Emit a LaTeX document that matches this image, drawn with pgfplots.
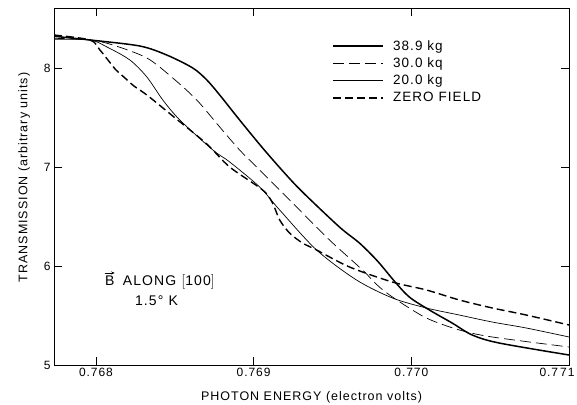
\documentclass[border=0pt]{standalone}
\usepackage{pgfplots}
\pgfplotsset{compat=1.18}
\usetikzlibrary{arrows.meta}
\usepackage{fontspec}
\setmainfont{Liberation Sans}[LetterSpace=8]

\begin{document}
\begin{tikzpicture}
\begin{axis}[
    scale only axis,
    width=515pt, height=357pt,
    xmin=0.767734, xmax=0.771,
    ymin=5, ymax=8.606,
    xtick={0.768,0.769,0.770,0.771},
    xticklabels={0.768,0.769,0.770,\hspace*{-24pt}0.7\,71},
    ytick={5,6,7,8},
    yticklabels={5,6,7,8},
    tick align=inside,
    major tick length=8pt,
    tick style={black, line width=0.5pt},
    axis line style={line width=0.8pt},
    ticklabel style={font=\fontsize{12}{14}\selectfont},
    /pgf/number format/assume math mode=true,
    xlabel={PHOTON ENERGY (electron volts)},
    ylabel={TRANSMISSION (arbitrary units)},
    label style={font=\fontsize{12.5}{14}\selectfont},
    xlabel style={yshift=-8pt},
    ylabel style={yshift=7pt, xshift=9pt},
    legend style={at={(rel axis cs:0.54,0.915)}, anchor=north west,
        draw=none, fill=none, font=\fontsize{13.5}{15}\selectfont,
        row sep=2pt, inner sep=0pt},
    legend cell align=left,
    legend image code/.code={\draw[#1] (0pt,0pt) -- (50pt,0pt); \path (57pt,0pt);},
    every axis plot/.append style={smooth, tension=0.5, black},
]
% 38.9 kg
\addplot[line width=1.5pt, forget plot] coordinates {
(0.767734,8.32) (0.767962,8.283) (0.768278,8.222) (0.768449,8.131)
(0.768614,8.000) (0.768703,7.879) (0.768785,7.727) (0.768911,7.475)
(0.769057,7.192) (0.769196,6.939) (0.769310,6.747) (0.769544,6.394)
(0.769671,6.232) (0.769785,6.051) (0.769892,5.848) (0.769987,5.687)
(0.770114,5.556) (0.770259,5.424) (0.770386,5.303) (0.770557,5.222)
(0.771,5.101)};
% 30.0 kg
\addplot[line width=0.7pt, dash pattern=on 11pt off 5pt, forget plot] coordinates {
(0.767734,8.30) (0.767962,8.283) (0.768108,8.232) (0.768323,8.101)
(0.768487,7.899) (0.768639,7.677) (0.768785,7.404) (0.768911,7.172)
(0.769038,6.970) (0.769272,6.596) (0.769481,6.263) (0.769690,5.960)
(0.769797,5.788) (0.769905,5.660) (0.770095,5.475) (0.770304,5.354)
(0.770513,5.283) (0.771,5.182)};
% 20.0 kg
\addplot[line width=0.7pt, forget plot] coordinates {
(0.767734,8.29) (0.767962,8.283) (0.768070,8.212) (0.768215,8.081)
(0.768323,7.909) (0.768424,7.677) (0.768532,7.475) (0.768741,7.172)
(0.768848,7.051) (0.769038,6.798) (0.769165,6.566) (0.769399,6.162)
(0.769652,5.859) (0.769880,5.677) (0.770095,5.576) (0.770304,5.505)
(0.770513,5.434) (0.770728,5.374) (0.771,5.283)};
% zero field
\addplot[line width=1.4pt, dash pattern=on 8pt off 4pt, forget plot] coordinates {
(0.767734,8.333) (0.767962,8.283) (0.768025,8.182) (0.768076,8.081)
(0.768127,7.980) (0.768177,7.909) (0.768241,7.818) (0.768323,7.727)
(0.768487,7.515) (0.768703,7.232) (0.768848,7.000) (0.769057,6.768)
(0.769120,6.636) (0.769165,6.465) (0.769228,6.333) (0.769310,6.232)
(0.769399,6.162) (0.769608,5.990) (0.769880,5.838) (0.770095,5.758)
(0.770304,5.657) (0.770513,5.576) (0.770728,5.505) (0.771,5.404)};

\addlegendimage{black, line width=1.7pt}
\addlegendentry{38.9 kg}
\addlegendimage{black, line width=0.8pt, dash pattern=on 11pt off 5pt}
\addlegendentry{30.0 kq}
\addlegendimage{black, line width=0.8pt}
\addlegendentry{20.0 kg}
\addlegendimage{black, line width=1.5pt, dash pattern=on 8pt off 4pt}
\addlegendentry{ZERO FIELD}

\node[anchor=base west, inner sep=0pt, font=\fontsize{14}{16}\selectfont] (b)
  at (axis cs:0.768057,5.80) {B};
\draw[-{Stealth[length=3.5pt,width=3pt]}, line width=0.6pt]
  ([yshift=3pt]b.north west) -- ([yshift=3pt]b.north east);
\node[anchor=base west, inner sep=0pt, font=\fontsize{14}{16}\selectfont]
  at ([xshift=8pt]b.base east) {ALONG $\Bigl[$100$\Bigr]$};
\node[anchor=base west, inner sep=0pt, font=\fontsize{14}{16}\selectfont]
  at (axis cs:0.768247,5.606) {1.5° K};
\end{axis}
\pgfresetboundingbox
\path[use as bounding box] (current axis.south west) ++(-54pt,-39pt) rectangle ++(577pt,404pt);
\end{tikzpicture}
\end{document}
